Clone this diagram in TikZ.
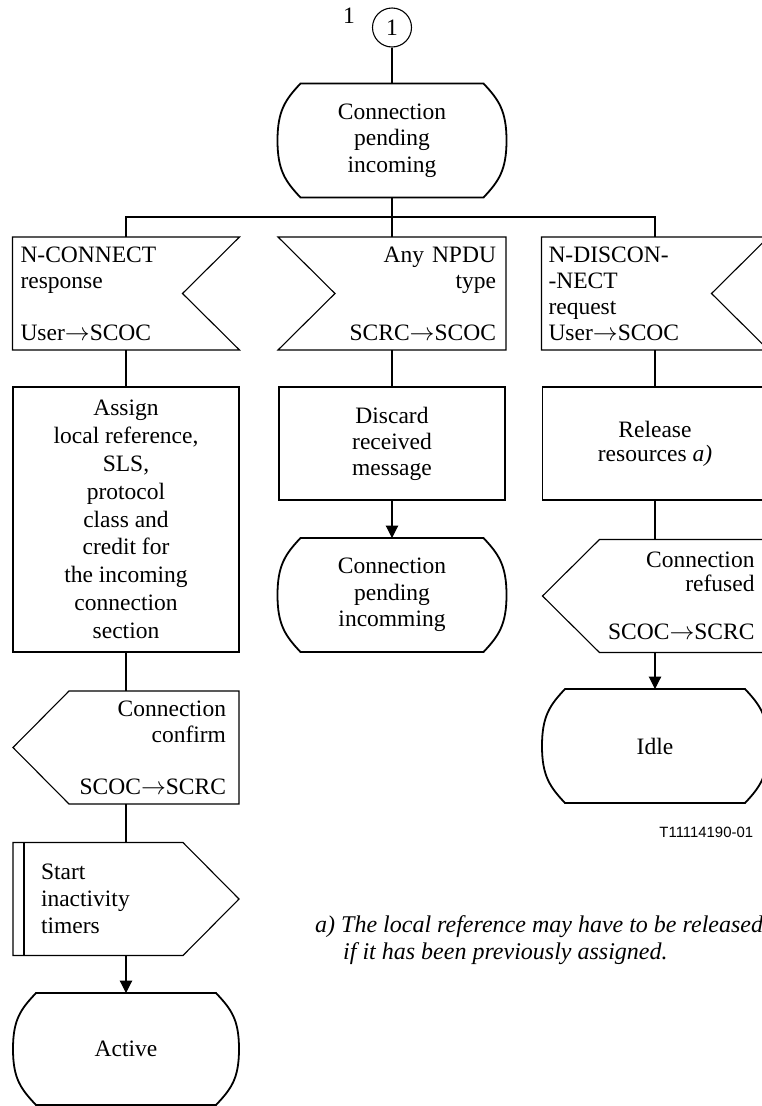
\documentclass[tikz,border=0pt]{standalone}
\usepackage{fontspec}
\setmainfont{Liberation Serif}
\newfontfamily\tsans{Liberation Sans}
\usetikzlibrary{calc,arrows.meta}

\newcommand{\myarr}{\ensuremath{\rightarrow}}
\newcommand{\stateoutline}[1]{%
  \draw[stline] ($(#1.north west)+(23,0)$) -- ($(#1.north east)+(-23,0)$)
  .. controls ($(#1.north east)+(-8,16)$) and ($(#1.east)+(0,-30)$) .. (#1.east)
  .. controls ($(#1.east)+(0,30)$) and ($(#1.south east)+(-8,-16)$) .. ($(#1.south east)+(-23,0)$)
  -- ($(#1.south west)+(23,0)$)
  .. controls ($(#1.south west)+(8,-16)$) and ($(#1.west)+(0,30)$) .. (#1.west)
  .. controls ($(#1.west)+(0,-30)$) and ($(#1.north west)+(8,16)$) .. cycle;}

\begin{document}
\begin{tikzpicture}[x=1pt,y=-1pt,
  ln/.style={line width=1.1pt},
  stline/.style={line width=1.8pt},
  arr/.style={ln,-{Triangle[length=12.5pt,width=12.5pt]}},
  txt/.style={font=\fontsize{23.5pt}{26pt}\selectfont},
  shp/.style={txt,inner sep=0pt,outer sep=0pt,minimum height=113pt},
  ctr/.style={shp,align=center}
]
\path[use as bounding box] (0,0) rectangle (762,1106);
\clip (0,0) rectangle (762,1106);

% connector circle and label
\node[draw,ln,circle,minimum size=39pt,inner sep=0pt,txt] (c1) at (392,27.5) {1};
\node[txt,anchor=base] (c1lbl) at (349,23) {1};

% states
\node[ctr,minimum width=229pt,minimum height=114pt,font=\fontsize{23.5pt}{26.7pt}\selectfont] (st1) at (392,140.5) {Connection\\pending\\incoming};
\node[ctr,minimum width=229pt,minimum height=114pt,font=\fontsize{23.5pt}{26.5pt}\selectfont] (st2) at (392,595) {Connection\\pending\\incomming};
\node[ctr,minimum width=226pt,minimum height=114pt] (idle) at (655,746) {Idle};
\node[ctr,minimum width=226pt,minimum height=112pt] (act) at (126,1049) {Active};

% inputs
\node[shp,text width=211pt,inner xsep=8pt,align=left] (in1) at (126,293.5) {N-CONNECT\\response\\\mbox{}\\User\myarr SCOC};
\node[shp,text width=208pt,inner xsep=10pt,align=right] (in2) at (392,293.5) {Any NPDU\\type\\\mbox{}\\SCRC\myarr SCOC};
\node[shp,text width=213pt,inner xsep=7pt,align=left] (in3) at (655,293.5) {N-DISCON-\\-NECT\\request\\User\myarr SCOC};

% tasks
\node[ctr,minimum width=226pt,minimum height=265pt,font=\fontsize{23.5pt}{27.8pt}\selectfont] (ta) at (126,519.5) {Assign\\local reference,\\SLS,\\protocol\\class and\\credit for\\the incoming\\connection\\section};
\node[ctr,minimum width=226pt] (tb) at (392,443.5) {Discard\\received\\message};
\node[ctr,minimum width=225pt,font=\fontsize{23.5pt}{24pt}\selectfont] (tc) at (655,443.5) {Release\\resources \textit{a)}};

% outputs
\node[shp,text width=200pt,inner xsep=13pt,align=right] (out1) at (126,747.5) {Connection\\confirm\\\mbox{}\\SCOC\myarr SCRC};
\node[shp,text width=199pt,inner xsep=13pt,align=right,font=\fontsize{23.5pt}{24pt}\selectfont] (out2) at (655,596) {Connection\\refused\\\mbox{}\\SCOC\myarr SCRC};

% timer
\node[shp,text width=170pt,inner xsep=28pt,align=left,font=\fontsize{23.5pt}{27pt}\selectfont] (tim) at (126,899) {Start\\inactivity\\timers};

% outlines
\stateoutline{st1}
\stateoutline{st2}
\stateoutline{idle}
\stateoutline{act}
\draw[ln] (in1.north west) -- (in1.north east) -- ($(in1.east)+(-57,0)$) -- (in1.south east) -- (in1.south west) -- cycle;
\draw[ln] (in3.north west) -- (in3.north east) -- ($(in3.east)+(-57,0)$) -- (in3.south east) -- (in3.south west) -- cycle;
\draw[ln] (in2.north east) -- (in2.north west) -- ($(in2.west)+(57,0)$) -- (in2.south west) -- (in2.south east) -- cycle;
\draw[ln] (ta.north west) rectangle (ta.south east);
\draw[ln] (tb.north west) rectangle (tb.south east);
\draw[ln] (tc.north west) rectangle (tc.south east);
\draw[ln] ($(out1.north west)+(56,0)$) -- (out1.north east) -- (out1.south east) -- ($(out1.south west)+(56,0)$) -- (out1.west) -- cycle;
\draw[ln] ($(out2.north west)+(57,0)$) -- (out2.north east) -- (out2.south east) -- ($(out2.south west)+(57,0)$) -- (out2.west) -- cycle;
\draw[ln] (tim.north west) -- ($(tim.north east)+(-56,0)$) -- (tim.east) -- ($(tim.south east)+(-56,0)$) -- (tim.south west) -- cycle;
\draw[ln] ($(tim.north west)+(11,0)$) -- ($(tim.south west)+(11,0)$);

% connectors
\draw[ln] (c1.south) -- (st1.north);
\draw[ln] (st1.south) -- (in2.north);
\draw[ln] (in1.north) -- ++(0,-20) -| (in3.north);
\draw[ln] (in1.south) -- (ta.north);
\draw[ln] (ta.south) -- (out1.north);
\draw[ln] (out1.south) -- (tim.north);
\draw[arr] (tim.south) -- (act.north);
\draw[ln] (in2.south) -- (tb.north);
\draw[arr] (tb.south) -- (st2.north);
\draw[ln] (in3.south) -- (tc.north);
\draw[ln] (tc.south) -- (out2.north);
\draw[arr] (out2.south) -- (idle.north);

% notes
\node[font=\fontsize{24pt}{27pt}\selectfont\itshape,anchor=base west,inner sep=0pt] (fn1) at (315,932) {a) The local reference may have to be released};
\node[font=\fontsize{24pt}{27pt}\selectfont\itshape,anchor=base west,inner sep=0pt] (fn2) at (343,959) {if it has been previously assigned.};
\node[font=\tsans\fontsize{14.9pt}{17pt}\selectfont,anchor=base east,inner sep=0pt] (tl) at (753.3,837) {T11114190-01};
\end{tikzpicture}
\end{document}
